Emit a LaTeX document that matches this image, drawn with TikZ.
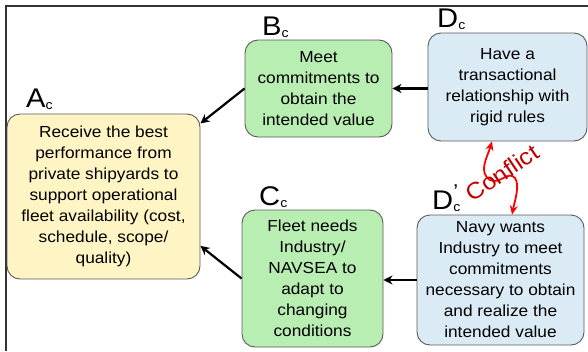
\documentclass[tikz,border=0pt]{standalone}
\usepackage{fontspec}
\setmainfont[FakeStretch=1.08]{Liberation Sans}
\usetikzlibrary{arrows.meta}
\definecolor{goalyellow}{HTML}{FFF5C4}
\definecolor{needgreen}{HTML}{B9EEB2}
\definecolor{wantblue}{HTML}{DAEBF5}
\definecolor{boxline}{HTML}{5A5A5A}
\definecolor{conflictred}{HTML}{C00000}
\newcommand{\caselbl}[2]{{\fontsize{27}{27}\selectfont #1}\rlap{\raisebox{11pt}{\fontsize{20}{20}\selectfont #2}}{\fontsize{13}{13}\selectfont\raisebox{-2pt}{c}}}
\begin{document}
\begin{tikzpicture}[x=1pt,y=-1pt,
	causal/.style={line width=2.2pt,-{Stealth[length=9pt,width=9pt]}},
	conflict/.style={red,line width=1.8pt,{Stealth[length=9pt,width=8pt]}-{Stealth[length=9pt,width=8pt]}}]
	\useasboundingbox (0,0) rectangle (588,351);
	\draw[line width=1.4pt,black!80] (6,351) -- (6,6) -- (588,6);
	\begin{scope}[every node/.style={draw=boxline,line width=0.9pt,rounded corners=13pt,align=center,font=\fontsize{16}{21}\selectfont,inner sep=0pt}]
	\node[fill=goalyellow,minimum width=193pt,minimum height=165pt] (a) at (103.5,196.5) {Receive the best\\performance from\\private shipyards to\\support operational\\fleet availability (cost,\\schedule, scope/\\quality)};
	\node[fill=needgreen,minimum width=147pt,minimum height=97pt] (b) at (318.5,88.5) {Meet\\commitments to\\obtain the\\intended value};
	\node[fill=needgreen,minimum width=141pt,minimum height=137pt] (c) at (312.5,278.5) {Fleet needs\\Industry/\\NAVSEA to\\adapt to\\changing\\conditions};
	\node[fill=wantblue,minimum width=159pt,minimum height=108pt] (d) at (507.5,87) {Have a\\transactional\\relationship with\\rigid rules};
	\node[fill=wantblue,minimum width=167pt,minimum height=130pt] (dp) at (500.5,280) {Navy wants\\Industry to meet\\commitments\\necessary to obtain\\and realize the\\intended value};
	\end{scope}
	\begin{scope}[every node/.style={anchor=base west,inner sep=0pt}]
	\node (la) at (26,107) {\caselbl{A}{}};
	\node (lb) at (262,35) {\caselbl{B}{}};
	\node (lc) at (259,205) {\caselbl{C}{}};
	\node (ld) at (437,27) {\caselbl{D}{}};
	\node (ldp) at (432,209) {\caselbl{D}{’}};
	\end{scope}
	\foreach \from/\to in {b.west/a.37,c.west/a.-27}
	\draw[causal] (\from) -- (\to);
	\draw[causal] (d.west |- b) -- (b.east);
	\draw[causal] (dp.west) -- (dp.west -| c.east);
	% conflict between the two wants
	\draw[conflict] ([xshift=-15.5pt]d.south) .. controls (487,158) and (478,172) .. (490,180)
		.. controls (500,185) and (508,170) .. (515,178)
		.. controls (520,185) and (515,200) .. ([xshift=11.5pt]dp.north);
	\node[text=conflictred,rotate=34,font=\fontsize{23}{23}\selectfont,inner sep=0pt] (cf) at (502,173) {Conflict};
\end{tikzpicture}
\end{document}
